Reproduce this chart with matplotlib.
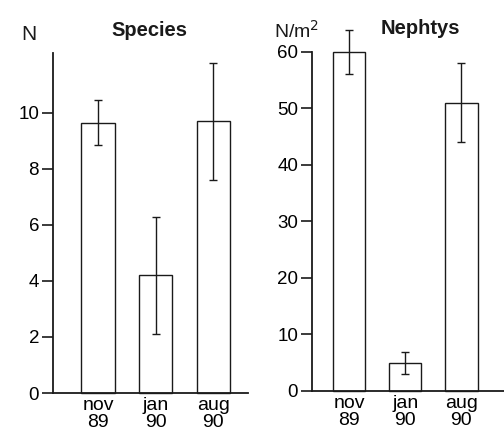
import matplotlib
matplotlib.use("Agg")
import matplotlib.pyplot as plt

plt.rcParams['font.family'] = ['Liberation Sans', 'DejaVu Sans']

categories = ["nov\n89", "jan\n90", "aug\n90"]
species_mean = [9.65, 4.2, 9.7]
species_err = [0.8, 2.1, 2.1]
nephtys_mean = [59.9, 4.9, 51.0]
nephtys_err = [3.9, 1.9, 7.0]

W, H = 504, 437
fig = plt.figure(figsize=(W / 100, H / 100), dpi=100)
ink = '#1a1a1a'

def px(x0, x1, y0, y1):
    return [x0 / W, 1 - y1 / H, (x1 - x0) / W, (y1 - y0) / H]

ax1 = fig.add_axes(px(53, 248, 53, 393))
ax2 = fig.add_axes(px(312, 504, 51.7, 390.5))

def style(ax, yticks, ylim, xlim):
    ax.set_ylim(*ylim)
    ax.set_xlim(*xlim)
    ax.set_yticks(yticks)
    for s in ['top', 'right']:
        ax.spines[s].set_visible(False)
    for s in ['left', 'bottom']:
        ax.spines[s].set_linewidth(1.3)
        ax.spines[s].set_color(ink)
    ax.tick_params(axis='y', length=8, width=1.2, color=ink, labelsize=13.5, pad=2)
    ax.tick_params(axis='x', length=0, labelsize=14, pad=3)
    ax.set_xticks(range(len(categories)))
    ax.set_xticklabels(categories, linespacing=1.02)

pos = list(range(len(categories)))
for ax, m, e in [(ax1, species_mean, species_err), (ax2, nephtys_mean, nephtys_err)]:
    ax.bar(pos, m, width=0.58, facecolor='white', edgecolor=ink, linewidth=1.0, clip_on=False, zorder=2)
    ax.errorbar(pos, m, yerr=e, fmt='none', ecolor=ink, elinewidth=1.0, capsize=3.2,
                capthick=1.0, clip_on=False, zorder=3)

style(ax1, [0, 2, 4, 6, 8, 10], (0, 12.14), (-0.78, 2.6))
style(ax2, [0, 10, 20, 30, 40, 50, 60], (0, 60), (-0.66, 2.76))

fig.text(29 / W, 1 - 35 / H, "N", fontsize=15, ha='center', va='center', color=ink)
fig.text(149 / W, 1 - 31 / H, "Species", fontsize=14.5, fontweight='bold', ha='center', va='center', color=ink)
fig.text(297 / W, 1 - 31 / H, "N/m$^2$", fontsize=14, ha='center', va='center', color=ink)
fig.text(420 / W, 1 - 29 / H, "Nephtys", fontsize=14.5, fontweight='bold', ha='center', va='center', color=ink)

fig.savefig("out.png", dpi=100)
